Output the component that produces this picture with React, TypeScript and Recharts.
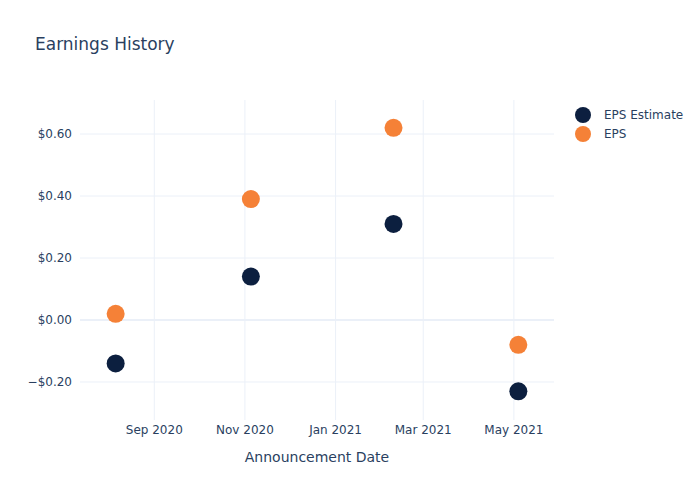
import React from 'react';
import {
  ScatterChart,
  Scatter,
  XAxis,
  YAxis,
  CartesianGrid,
  ReferenceLine,
} from 'recharts';

const announcementDates = ['2020-08-06', '2020-11-05', '2021-02-09', '2021-05-04'];
const epsEstimate = [-0.14, 0.14, 0.31, -0.23];
const epsActual = [0.02, 0.39, 0.62, -0.08];

const xTickDates = ['2020-09-01', '2020-11-01', '2021-01-01', '2021-03-01', '2021-05-01'];
const xTickLabels = ['Sep 2020', 'Nov 2020', 'Jan 2021', 'Mar 2021', 'May 2021'];
const yTicks = [-0.2, 0, 0.2, 0.4, 0.6];

const seriesNames = ['EPS Estimate', 'EPS'];
const seriesColors = ['#0c1f3f', '#f58137'];

const toTime = (d: string) => new Date(d + 'T00:00:00Z').getTime();

const xTicks = xTickDates.map(toTime);
const xDomain = [toTime('2020-07-13'), toTime('2021-05-28')];
const yDomain = [-0.3226, 0.7097];

const estimateData = announcementDates.map((d, i) => ({ x: toTime(d), y: epsEstimate[i] }));
const actualData = announcementDates.map((d, i) => ({ x: toTime(d), y: epsActual[i] }));

const FONT = '"DejaVu Sans", Verdana, sans-serif';
const TEXT = '#2a3f5f';
const GRID = '#ebf0f8';

const formatMoney = (v: number) =>
  v < 0 ? '\u2212$' + Math.abs(v).toFixed(2) : '$' + v.toFixed(2);

const formatDate = (v: number) => {
  const idx = xTicks.indexOf(v);
  return idx >= 0 ? xTickLabels[idx] : '';
};

const Dot = (props: any) => (
  <circle cx={props.cx} cy={props.cy} r={9} fill={props.fill} />
);

// plotly-style legend sitting to the right of the plot
const LegendBox = () => (
  <div
    style={{
      position: 'absolute',
      left: 574,
      top: 105,
      fontFamily: FONT,
      fontSize: 12,
      color: TEXT,
    }}
  >
    {seriesNames.map((name, i) => (
      <div key={name} style={{ display: 'flex', alignItems: 'center', height: 19 }}>
        <svg width={18} height={18} style={{ marginRight: 12 }}>
          <circle cx={9} cy={9} r={8} fill={seriesColors[i]} />
        </svg>
        <span>{name}</span>
      </div>
    ))}
  </div>
);

export default function App() {
  return (
    <div style={{ position: 'absolute', left: 0, top: 0, width: 700, height: 500, background: '#fff' }}>
      <div
        style={{
          position: 'absolute',
          left: 35,
          top: 34,
          fontFamily: FONT,
          fontSize: 17,
          color: TEXT,
        }}
      >
        Earnings History
      </div>
      <ScatterChart
        width={700}
        height={500}
        margin={{ top: 100, right: 146, bottom: 0, left: 0 }}
      >
        <CartesianGrid
          stroke={GRID}
          strokeWidth={1}
          horizontalValues={yTicks}
          verticalValues={xTicks}
        />
        <ReferenceLine y={0} stroke={GRID} strokeWidth={2} />
        <XAxis
          type="number"
          dataKey="x"
          domain={xDomain}
          ticks={xTicks}
          tickFormatter={formatDate}
          allowDataOverflow
          axisLine={false}
          tickLine={false}
          tickSize={0}
          tickMargin={5}
          height={80}
          tick={{ fill: TEXT, fontSize: 12, fontFamily: FONT }}
          label={{
            value: 'Announcement Date',
            position: 'insideTop',
            offset: 32,
            fill: TEXT,
            fontSize: 14,
            fontFamily: FONT,
          }}
        />
        <YAxis
          type="number"
          dataKey="y"
          domain={yDomain}
          ticks={yTicks}
          tickFormatter={formatMoney}
          allowDataOverflow
          axisLine={false}
          tickLine={false}
          tickSize={0}
          width={80}
          tickMargin={8}
          tick={{ fill: TEXT, fontSize: 12, fontFamily: FONT }}
        />
        <Scatter
          name={seriesNames[0]}
          data={estimateData}
          fill={seriesColors[0]}
          shape={<Dot />}
          isAnimationActive={false}
        />
        <Scatter
          name={seriesNames[1]}
          data={actualData}
          fill={seriesColors[1]}
          shape={<Dot />}
          isAnimationActive={false}
        />
      </ScatterChart>
      <LegendBox />
    </div>
  );
}
